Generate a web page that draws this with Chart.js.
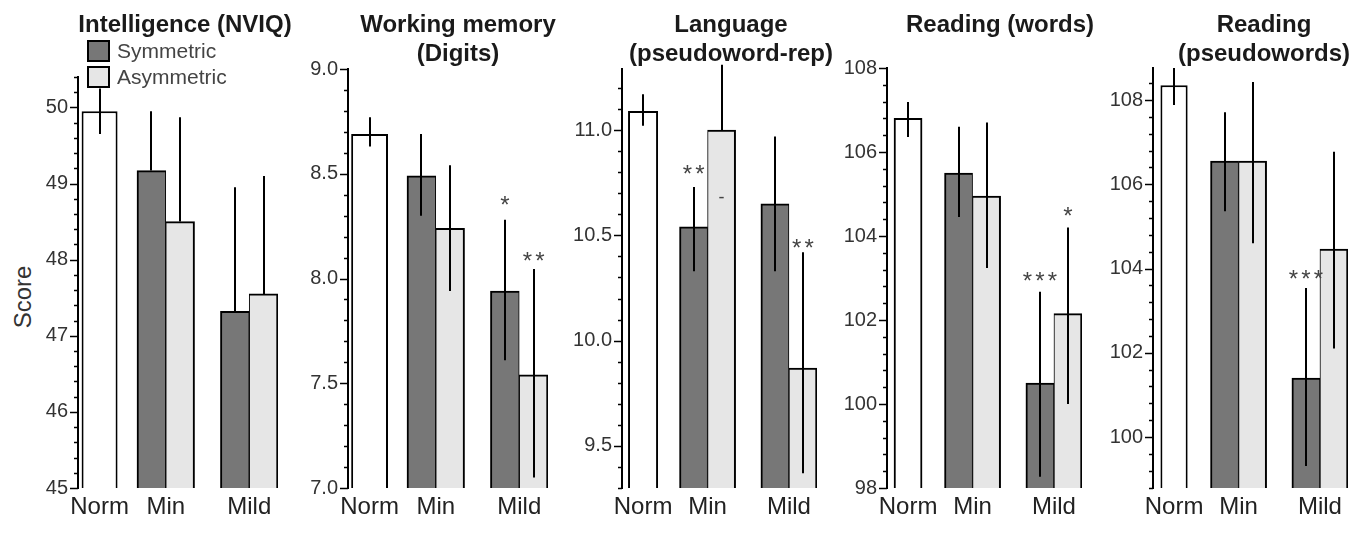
<!DOCTYPE html>
<html lang="en">
<head>
    <meta charset="UTF-8">
    <title>Scores by asymmetry group</title>
    <script src="https://cdn.jsdelivr.net/npm/chart.js"></script>
    <style>
        body {
            margin: 0;
            width: 1370px;
            height: 539px;
            position: relative;
            overflow: hidden;
            background: #fff;
            font-family: Arial, "Liberation Sans", sans-serif;
        }
        .panel { position: absolute; top: 0; height: 539px; }
        .title {
            position: absolute;
            top: 9px;
            transform: translateX(-50%);
            font-weight: bold;
            font-size: 24px;
            line-height: 29px;
            color: #1a1a1a;
            text-align: center;
            white-space: nowrap;
            z-index: 2;
        }
        .score {
            position: absolute;
            left: 23px;
            top: 297px;
            transform: translate(-50%, -50%) rotate(-90deg);
            font-size: 24px;
            color: #333;
        }
        .legend { position: absolute; left: 87px; top: 38px; z-index: 2; }
        .legend div { height: 26px; display: flex; align-items: center; font-size: 21px; color: #444; }
        .legend span {
            display: inline-block;
            width: 23px;
            height: 22px;
            box-sizing: border-box;
            border: 2px solid #000;
            margin-right: 7px;
        }
    </style>
</head>
<body>
    <div class="score">Score</div>
    <div class="legend">
        <div><span style="background:#777"></span>Symmetric</div>
        <div><span style="background:#e6e6e6"></span>Asymmetric</div>
    </div>

    <script>
        // Categories
        const groups = ['Norm', 'Min', 'Mild'];
        const titles = [
            ['Intelligence (NVIQ)'],
            ['Working memory', '(Digits)'],
            ['Language', '(pseudoword-rep)'],
            ['Reading (words)'],
            ['Reading', '(pseudowords)']
        ];

        // Norm group (one bar per panel) and its error range
        const normMean = [49.95, 8.69, 11.09, 106.8, 108.35];
        const normLow  = [49.65, 8.63, 11.02, 106.36, 107.88];
        const normHigh = [50.25, 8.77, 11.17, 107.19, 108.76];

        // Symmetric bars, [Min, Mild] per panel
        const symMean = [[49.17, 47.32], [8.49, 7.94], [10.54, 10.65], [105.5, 100.5], [106.55, 101.4]];
        const symLow  = [[49.17, 47.32], [8.30, 7.61], [10.33, 10.33], [104.45, 98.27], [105.36, 99.31]];
        const symHigh = [[49.95, 48.95], [8.69, 8.28], [10.73, 10.97], [106.6, 102.67], [107.71, 103.54]];

        // Asymmetric bars, [Min, Mild] per panel
        const asymMean = [[48.5, 47.55], [8.24, 7.54], [11.0, 9.87], [104.95, 102.15], [106.55, 104.46]];
        const asymLow  = [[48.5, 47.55], [7.94, 7.05], [11.0, 9.37], [103.24, 100.0], [104.6, 102.1]];
        const asymHigh = [[49.87, 49.1], [8.54, 8.045], [11.31, 10.42], [106.7, 104.2], [108.43, 106.77]];

        // Significance marks: panel, series, group, text, value
        const marks = [
            [1, 'sym', 2, '*', 8.38],
            [1, 'asym', 2, '**', 8.11],
            [2, 'sym', 1, '**', 10.82],
            [2, 'asym', 1, '-', 10.68],
            [2, 'asym', 2, '**', 10.47],
            [3, 'sym', 2, '***', 103.07],
            [3, 'asym', 2, '*', 104.62],
            [4, 'sym', 2, '***', 103.9]
        ];

        // Y axes
        const yMin = [45, 7.0, 9.3, 98, 98.79];
        const yMax = [50.4, 9.0, 11.29, 108, 108.76];
        const yMinorStep = [0.2, 0.1, 0.1, 0.4, 0.4];
        const yMajorStep = [1, 0.5, 0.5, 2, 2];
        const yDecimals = [0, 1, 1, 0, 0];

        // layout of the panels (pixels) and of the groups along x
        const axisX = [78, 348, 622, 887, 1153];
        const plotW = [200, 200, 195, 195, 195];
        const plotTop = [77, 69, 69, 68, 68];
        const titleX = [185, 458, 731, 1000, 1264];
        const normWidth = [1.25, 1.28, 1.07, 1.0, 0.97];
        const groupX = [0.75, 3.05, 5.95];
        const X_MAX = 6.95;
        const Y_W = 60;

        const isMulti = (v, step) => Math.abs(v / step - Math.round(v / step)) < 1e-6;

        function makePanel(p) {
            const box = document.createElement('div');
            box.className = 'panel';
            box.style.left = (axisX[p] - Y_W) + 'px';
            box.style.width = (Y_W + plotW[p] + 10) + 'px';
            const canvas = document.createElement('canvas');
            box.appendChild(canvas);
            document.body.appendChild(box);

            const t = document.createElement('div');
            t.className = 'title';
            t.style.left = titleX[p] + 'px';
            t.innerHTML = titles[p].join('<br>');
            document.body.appendChild(t);

            const ranges = [
                [[normLow[p], normHigh[p]]],
                [[symLow[p][0], symHigh[p][0]], [symLow[p][1], symHigh[p][1]]],
                [[asymLow[p][0], asymHigh[p][0]], [asymLow[p][1], asymHigh[p][1]]]
            ];

            // error bars, minor/major ticks and significance marks
            const extras = {
                id: 'extras',
                afterDatasetsDraw(chart) {
                    const ctx = chart.ctx;
                    const ys = chart.scales.y;
                    ctx.save();
                    ctx.strokeStyle = '#000';
                    ctx.lineWidth = 2;
                    ranges.forEach((list, di) => {
                        const meta = chart.getDatasetMeta(di);
                        list.forEach((r, i) => {
                            const x = Math.round(meta.data[i].x);
                            ctx.beginPath();
                            ctx.moveTo(x, ys.getPixelForValue(r[0]));
                            ctx.lineTo(x, ys.getPixelForValue(r[1]));
                            ctx.stroke();
                        });
                    });

                    // y tick marks
                    const left = chart.chartArea.left;
                    ctx.lineWidth = 1.5;
                    const k0 = Math.ceil(yMin[p] / yMinorStep[p] - 1e-6);
                    const k1 = Math.floor(yMax[p] / yMinorStep[p] + 1e-6);
                    for (let k = k0; k <= k1; k++) {
                        const v = k * yMinorStep[p];
                        const y = Math.round(ys.getPixelForValue(v)) + 0.5;
                        const len = isMulti(v, yMajorStep[p]) ? 8 : 4;
                        ctx.beginPath();
                        ctx.moveTo(left - len, y);
                        ctx.lineTo(left, y);
                        ctx.stroke();
                    }

                    // significance marks
                    ctx.fillStyle = '#444';
                    ctx.textAlign = 'center';
                    ctx.textBaseline = 'alphabetic';
                    marks.filter(m => m[0] === p).forEach(m => {
                        const meta = chart.getDatasetMeta(m[1] === 'sym' ? 1 : 2);
                        const cx = meta.data[m[2] - 1].x;
                        const cy = ys.getPixelForValue(m[4]);
                        const chars = m[3].split('');
                        const pitch = 12.5;
                        chars.forEach((c, i) => {
                            const x = cx + (i - (chars.length - 1) / 2) * pitch;
                            if (c === '*') {
                                ctx.font = '24px Arial, "Liberation Sans", sans-serif';
                                ctx.fillText(c, x, cy + 14);
                            } else {
                                ctx.font = '18px Arial, "Liberation Sans", sans-serif';
                                ctx.fillText(c, x, cy + 6);
                            }
                        });
                    });
                    ctx.restore();
                }
            };

            const barBase = {
                grouped: false,
                categoryPercentage: 1,
                borderColor: '#000',
                borderSkipped: false
            };

            new Chart(canvas, {
                type: 'bar',
                data: {
                    datasets: [
                        Object.assign({}, barBase, {
                            label: 'Norm',
                            data: [{ x: groupX[0], y: normMean[p] }],
                            backgroundColor: '#fff',
                            borderWidth: 2,
                            barPercentage: normWidth[p]
                        }),
                        Object.assign({}, barBase, {
                            label: 'Symmetric',
                            data: [
                                { x: groupX[1] - 0.5, y: symMean[p][0] },
                                { x: groupX[2] - 0.5, y: symMean[p][1] }
                            ],
                            backgroundColor: '#777',
                            borderWidth: { left: 2, right: 1, top: 2, bottom: 2 },
                            barPercentage: 1
                        }),
                        Object.assign({}, barBase, {
                            label: 'Asymmetric',
                            data: [
                                { x: groupX[1] + 0.5, y: asymMean[p][0] },
                                { x: groupX[2] + 0.5, y: asymMean[p][1] }
                            ],
                            backgroundColor: '#e6e6e6',
                            borderWidth: { left: 1, right: 2, top: 2, bottom: 2 },
                            barPercentage: 1
                        })
                    ]
                },
                options: {
                    responsive: true,
                    maintainAspectRatio: false,
                    animation: false,
                    layout: { padding: { top: plotTop[p], left: 0, right: 10, bottom: 0 } },
                    plugins: {
                        legend: { display: false },
                        tooltip: { enabled: false }
                    },
                    scales: {
                        x: {
                            type: 'linear',
                            min: 0,
                            max: X_MAX,
                            offset: false,
                            grid: { display: false, drawTicks: false },
                            border: { display: false },
                            afterBuildTicks: s => { s.ticks = groupX.map(v => ({ value: v })); },
                            afterFit: s => { s.height = 539 - 488; },
                            ticks: {
                                autoSkip: false,
                                maxRotation: 0,
                                padding: 5,
                                color: '#222',
                                font: { family: 'Arial, "Liberation Sans", sans-serif', size: 24 },
                                callback: (v, i) => groups[i]
                            }
                        },
                        y: {
                            min: yMin[p],
                            max: yMax[p],
                            beginAtZero: false,
                            afterFit: s => { s.width = Y_W; },
                            grid: { display: false, drawTicks: false },
                            border: { display: true, color: '#000', width: 2 },
                            ticks: {
                                stepSize: yMajorStep[p],
                                includeBounds: false,
                                padding: 10,
                                color: '#333',
                                font: { family: 'Arial, "Liberation Sans", sans-serif', size: 20 },
                                callback: v => isMulti(v, yMajorStep[p]) ? v.toFixed(yDecimals[p]) : ''
                            }
                        }
                    }
                },
                plugins: [extras]
            });
        }

        for (let p = 0; p < titles.length; p++) makePanel(p);
    </script>
</body>
</html>
